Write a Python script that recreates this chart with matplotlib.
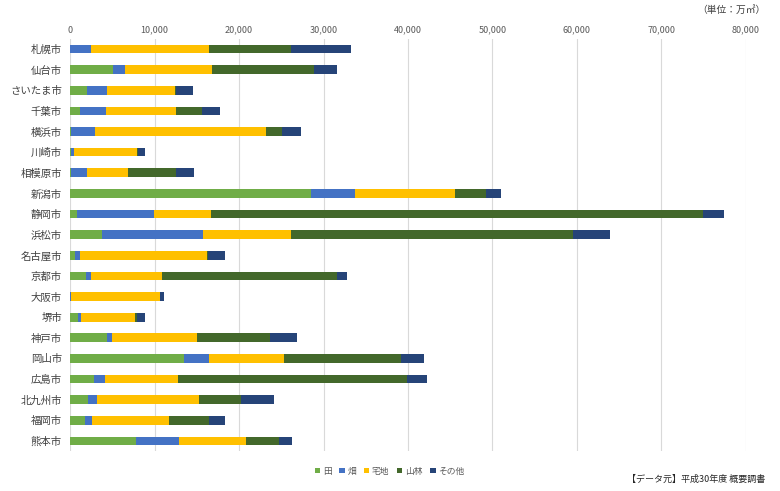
import numpy as np
import matplotlib.pyplot as plt
from matplotlib.ticker import FuncFormatter

plt.rcParams['font.family'] = ['Noto Sans CJK JP', 'DejaVu Sans']

cities = ["札幌市", "仙台市", "さいたま市", "千葉市", "横浜市", "川崎市", "相模原市",
          "新潟市", "静岡市", "浜松市", "名古屋市", "京都市", "大阪市", "堺市",
          "神戸市", "岡山市", "広島市", "北九州市", "福岡市", "熊本市"]

# 単位: 万㎡
ta = [0, 5020, 1940, 1190, 80, 30, 50, 28480, 830, 3760,
      590, 1900, 10, 910, 4350, 13510, 2770, 2130, 1740, 7820]
hata = [2490, 1460, 2440, 3080, 2810, 445, 1930, 5230, 9050, 11960,
        560, 590, 20, 360, 550, 2920, 1340, 1070, 790, 5020]
takuchi = [13900, 10310, 8020, 8210, 20290, 7465, 4820, 11900, 6820, 10430,
           15080, 8340, 10600, 6390, 10070, 8890, 8610, 12050, 9160, 7970]
sanrin = [9760, 12110, 120, 3080, 1940, 60, 5720, 3640, 58290, 33410,
          50, 20730, 0, 200, 8690, 13860, 27210, 4930, 4780, 3880]
sonota = [7100, 2730, 2050, 2130, 2170, 890, 2130, 1740, 2410, 4410,
          2050, 1190, 470, 950, 3160, 2690, 2370, 3990, 1860, 1610]

series = [("田", ta, "#70AD47"), ("畑", hata, "#4472C4"), ("宅地", takuchi, "#FFC000"),
          ("山林", sanrin, "#43682B"), ("その他", sonota, "#264478")]

fig = plt.figure(figsize=(7.8, 4.91), dpi=100)
ax = fig.add_axes([0.0901, 0.0809, 0.8658, 0.8403])

y = np.arange(len(cities))
left = np.zeros(len(cities))
for name, vals, color in series:
    vals = np.array(vals, dtype=float)
    ax.barh(y, vals, left=left, height=0.42, color=color, label=name, zorder=3)
    left += vals

ax.set_xlim(0, 80000)
ax.set_ylim(len(cities) - 0.5, -0.5)
ax.set_yticks(y)
ax.set_yticklabels(cities, fontsize=7.5, color="#404040")
ax.set_xticks(np.arange(0, 80001, 10000))
ax.xaxis.set_major_formatter(FuncFormatter(lambda v, p: f"{int(v):,}"))
ax.xaxis.tick_top()
ax.tick_params(axis="x", labelsize=6.5, colors="#595959", length=0, pad=3)
ax.tick_params(axis="y", length=0, pad=6)
for s in ax.spines.values():
    s.set_visible(False)
ax.grid(axis="x", color="#D9D9D9", linewidth=0.8, zorder=0)

ax.legend(loc="center", bbox_to_anchor=(0.473, -0.048), ncol=5, frameon=False,
          fontsize=6.3, handlelength=0.6, handleheight=0.6, handletextpad=0.3,
          columnspacing=0.9, labelcolor="#595959")

fig.text(0.981, 0.99, "（単位：万㎡）", ha="right", va="top", fontsize=7, color="#404040")
fig.text(0.981, 0.015, "【データ元】平成30年度 概要調書", ha="right", va="bottom",
         fontsize=6.5, color="#262626")

fig.savefig("out.png", dpi=100)
